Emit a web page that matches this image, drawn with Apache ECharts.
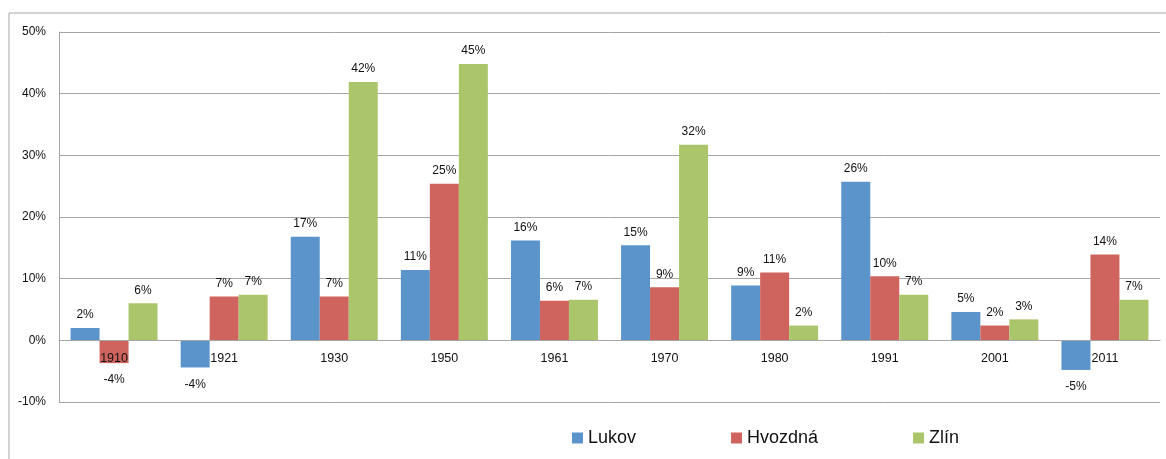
<!DOCTYPE html>
<html>
<head>
<meta charset="utf-8">
<script src="https://cdn.jsdelivr.net/npm/echarts@6/dist/echarts.min.js"></script>
<style>
  html, body { margin: 0; padding: 0; background: #fff; }
  #chart { width: 1166px; height: 459px; }
</style>
</head>
<body>
<div id="chart"></div>
<script>
// roky
var years = ['1910', '1921', '1930', '1950', '1961', '1970', '1980', '1991', '2001', '2011'];

// přírůstek obyvatel v %
var lukov   = [2.0, -4.4, 16.8, 11.4, 16.2, 15.4, 8.9, 25.7, 4.6, -4.8];
var hvozdna = [-3.7, 7.1, 7.1, 25.4, 6.4, 8.6, 11.0, 10.4, 2.4, 13.9];
var zlin    = [6.0, 7.4, 41.9, 44.8, 6.6, 31.7, 2.4, 7.4, 3.4, 6.6];

var seriesNames = ['Lukov', 'Hvozdná', 'Zlín'];
var colors = ['#5b94ca', '#cf645e', '#abc56a'];
var font = '"Liberation Sans", Arial, sans-serif';

var yMin = -10, yMax = 50;
var gridTop = 32, gridBottom = 57;
// posun osy x na nulu (popisky hned pod nulovou čarou, jako v Excelu)
var plotH = 459 - gridTop - gridBottom;
var zeroOffset = -plotH * (0 - yMin) / (yMax - yMin);

var myChart = echarts.init(document.getElementById('chart'));

function makeSeries(name, data) {
    return {
        name: name,
        type: 'bar',
        // záporné hodnoty mají popisek o kus níž
        data: data.map(function (v) {
            return v < 0 ? { value: v, label: { distance: 11 } } : v;
        }),
        barGap: '0%',
        barCategoryGap: '21%',
        label: {
            show: true,
            position: 'outside',
            distance: 7,
            color: '#111',
            fontSize: 12,
            fontFamily: font,
            formatter: function (p) {
                return Math.round(p.value) + '%';
            }
        }
    };
}

var option = {
    color: colors,
    animation: false,
    textStyle: { fontFamily: font },
    graphic: [{
        type: 'rect',
        shape: { x: 9, y: 13, width: 1200, height: 500 },
        style: { fill: 'none', stroke: '#a6a6a6', lineWidth: 1 },
        silent: true,
        z: -10
    }],
    grid: {
        left: 59,
        right: 6,
        top: gridTop,
        bottom: gridBottom,
        containLabel: false
    },
    legend: {
        left: 572,
        top: 429,
        padding: 0,
        itemWidth: 11,
        itemHeight: 11,
        itemGap: 95,
        icon: 'rect',
        textStyle: { fontSize: 18, color: '#111', fontFamily: font },
        data: seriesNames
    },
    xAxis: {
        type: 'category',
        data: years,
        offset: zeroOffset,
        z: 10,
        axisLine: { onZero: false, lineStyle: { color: '#a6a6a6', width: 1 } },
        axisTick: { show: false },
        axisLabel: { color: '#111', fontSize: 12.5, margin: 12, fontFamily: font }
    },
    yAxis: {
        type: 'value',
        min: yMin,
        max: yMax,
        interval: 10,
        axisLine: { show: true, lineStyle: { color: '#a6a6a6', width: 1 } },
        axisTick: { show: false },
        axisLabel: {
            color: '#111',
            fontSize: 12,
            margin: 13,
            fontFamily: font,
            formatter: function (v) { return v + '%'; }
        },
        splitLine: { show: true, lineStyle: { color: '#a6a6a6', width: 1 } }
    },
    series: [
        makeSeries(seriesNames[0], lukov),
        makeSeries(seriesNames[1], hvozdna),
        makeSeries(seriesNames[2], zlin)
    ]
};

myChart.setOption(option);
</script>
</body>
</html>
